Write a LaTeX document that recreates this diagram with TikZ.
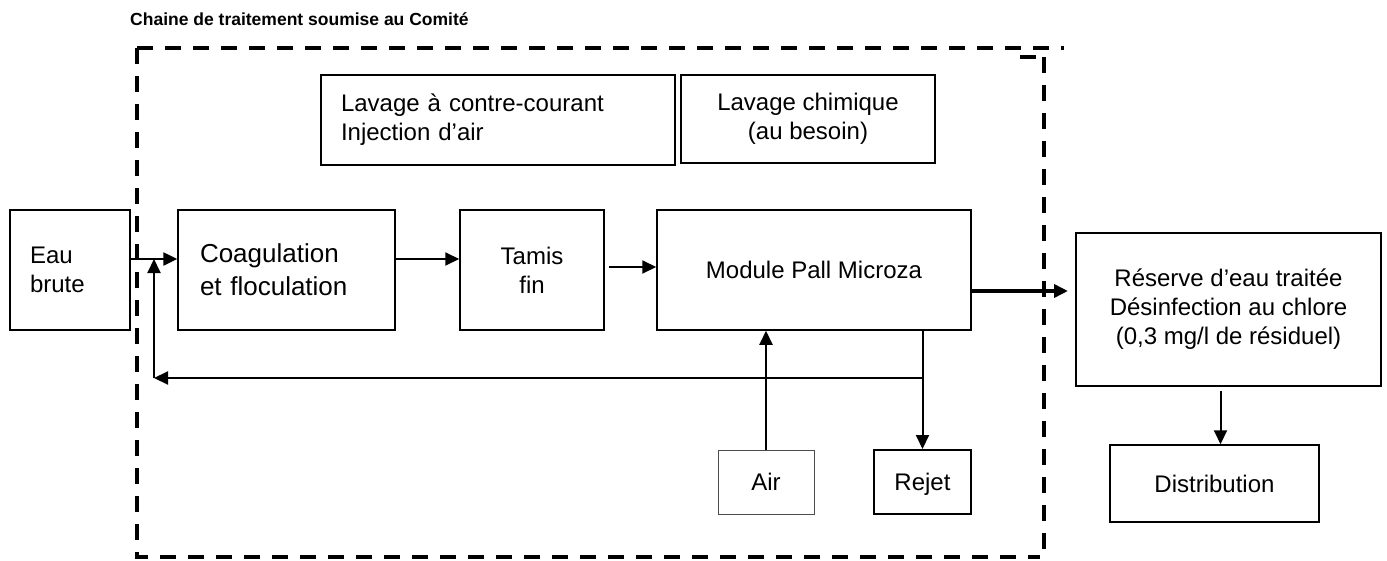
\documentclass[tikz,border=0pt]{standalone}
\usepackage{fontspec}
\setmainfont{Liberation Sans}
\usetikzlibrary{arrows.meta, positioning, calc}

\tikzset{
  boite/.style={draw, line width=1.5pt, inner sep=0pt, align=center, font=\fontsize{24}{29}\selectfont},
  petite/.style={boite, text height=17.5pt, text depth=0pt, minimum height=64pt},
  fleche/.style={line width=2pt, -{Triangle[length=14pt,width=13pt]}},
  cadre/.style={line width=4pt, dash pattern=on 16pt off 12pt},
}

\begin{document}
\begin{tikzpicture}[x=1pt, y=-1pt]
\useasboundingbox (0,0) rectangle (1387,560);

\node[anchor=west, inner sep=0pt, font=\bfseries\fontsize{17.5}{21}\selectfont] (titre) at (130,19) {Chaine de traitement soumise au Comité};

% cadre en pointillés
\draw[cadre] (137,48) -- (1064,48);
\draw[cadre] (137,48) -- (137,557) -- (1040,557);
\draw[cadre] (1044,57) -- (1044,560);
\draw[cadre] (1020,57) -- (1037,57);

% boites
\node[boite, text width=80pt, inner xsep=20pt, minimum height=120pt, align=left] (eau) at (70,270) {Eau\\brute};
\node[boite, text width=173pt, inner xsep=22pt, minimum height=120pt, align=left, font=\fontsize{26}{33}\selectfont] (coag) at (286.5,270) {Coagulation\\et floculation};
\node[boite, minimum width=144pt, minimum height=120pt] (tamis) at (532,270) {Tamis\\fin};
\node[boite, minimum width=314pt, minimum height=120pt] (module) at (814,270) {Module Pall Microza};
\node[boite, minimum width=305pt, minimum height=153pt] (reserve) at (1228.5,309.5) {Réserve d’eau traitée\\Désinfection au chlore\\(0,3 mg/l de résiduel)};
\node[boite, minimum width=209pt, minimum height=77pt] (distrib) at (1214.5,483.5) {Distribution};
\node[petite, line width=1pt, draw=black!70, minimum width=96pt] (air) at (766,482) {Air};
\node[petite, line width=2pt, minimum width=97pt] (rejet) at (922.5,482) {Rejet};
\node[boite, text width=314pt, inner xsep=20pt, minimum height=90pt, align=left] (lavage) at (498,120) {Lavage à contre-courant\\Injection d’air};
\node[boite, minimum width=254pt, minimum height=88pt] (chimique) at (808,119) {Lavage chimique\\(au besoin)};

% liaisons
\coordinate (entree) at ([yshift=11pt]eau.east);
\coordinate (retour) at (154,378);
\coordinate (sortie) at (1068,291);
\coordinate (bas) at ([xshift=-8pt,yshift=-4pt]reserve.south);

\draw[fleche, line width=2.5pt] (entree) -- (entree -| coag.west);
\draw[fleche] ([yshift=11pt]coag.east) -- ([yshift=11pt]tamis.west);
\draw[fleche] ([xshift=4pt,yshift=3pt]tamis.east) -- ([yshift=3pt]module.west);
\draw[fleche, line width=3.5pt] (module.east |- sortie) -- (sortie);
\draw[fleche] (air.north) -- (air.north |- module.south);
\draw[fleche] (module.south -| rejet.north) -- (rejet.north);
\draw[fleche] (rejet.north |- retour) -- (retour);
\draw[fleche] (retour) -- (retour |- entree);
\draw[fleche] (bas) -- (bas |- distrib.north);
\end{tikzpicture}
\end{document}
